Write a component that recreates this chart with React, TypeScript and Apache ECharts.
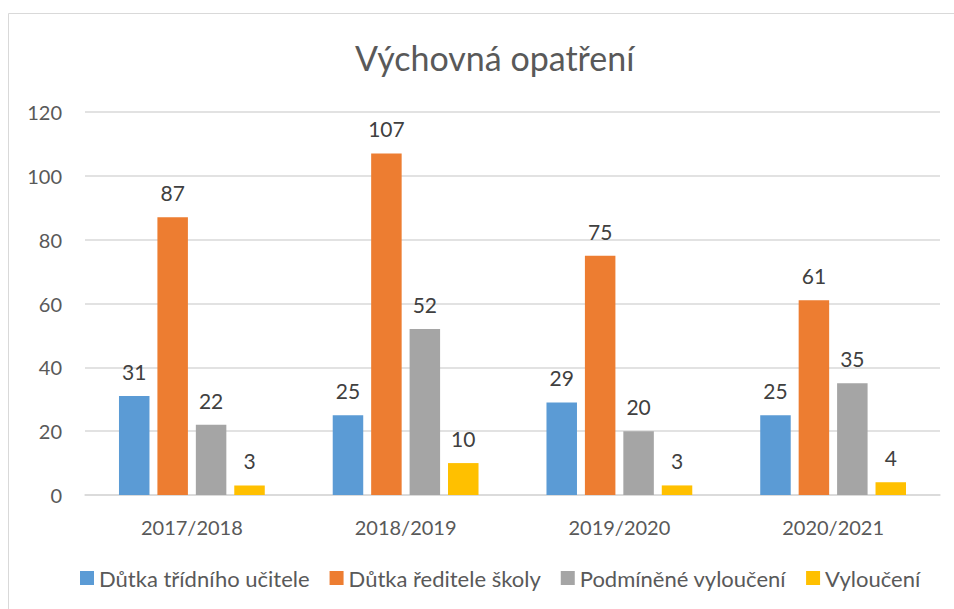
import React, { useEffect, useRef } from "react";
import * as echarts from "echarts";

const categories = ["2017/2018", "2018/2019", "2019/2020", "2020/2021"];
const seriesNames = ["Důtka třídního učitele", "Důtka ředitele školy", "Podmíněné vyloučení", "Vyloučení"];
const dutkaTridni = [31, 25, 29, 25];
const dutkaReditele = [87, 107, 75, 61];
const podminene = [22, 52, 20, 35];
const vylouceni = [3, 10, 3, 4];
const colors = ["#5B9BD5", "#ED7D31", "#A5A5A5", "#FFC000"];

const FONT = "Lato, 'Open Sans', sans-serif";

export default function App() {
  const ref = useRef<HTMLDivElement>(null);
  useEffect(() => {
    if (!ref.current) return;
    const chart = echarts.init(ref.current, undefined, { renderer: "svg" });
    const values = [dutkaTridni, dutkaReditele, podminene, vylouceni];
    chart.setOption({
      animation: false,
      textStyle: { fontFamily: FONT, color: "#595959" },
      title: {
        text: "Výchovná opatření",
        left: 350,
        top: 35,
        textStyle: { fontFamily: FONT, fontSize: 34, fontWeight: "normal", color: "#595959" },
      },
      graphic: [
        {
          type: "line",
          shape: { x1: 8.5, y1: 13.5, x2: 954, y2: 13.5 },
          style: { stroke: "#D9D9D9", lineWidth: 1 },
          silent: true,
        },
        {
          type: "line",
          shape: { x1: 8.5, y1: 13.5, x2: 8.5, y2: 609 },
          style: { stroke: "#D9D9D9", lineWidth: 1 },
          silent: true,
        },
      ],
      legend: {
        bottom: 15,
        left: 75,
        itemWidth: 14,
        itemHeight: 14,
        itemGap: 20,
        icon: "rect",
        textStyle: { fontFamily: FONT, fontSize: 22, color: "#595959" },
        data: seriesNames,
      },
      grid: { left: 85, right: 14, top: 112, bottom: 114 },
      xAxis: {
        type: "category",
        data: categories,
        axisLine: { lineStyle: { color: "#D9D9D9", width: 1.5 } },
        axisTick: { show: false },
        axisLabel: { fontFamily: FONT, fontSize: 20, color: "#595959", margin: 22 },
      },
      yAxis: {
        type: "value",
        min: 0,
        max: 120,
        interval: 20,
        axisLine: { show: false },
        axisTick: { show: false },
        splitLine: { lineStyle: { color: "#D9D9D9", width: 1.5 } },
        axisLabel: { fontFamily: FONT, fontSize: 20, color: "#595959", margin: 23 },
      },
      series: seriesNames.map((name, i) => ({
        name,
        type: "bar",
        data: values[i],
        barWidth: 30.5,
        barGap: "26%",
        itemStyle: { color: colors[i] },
        label: {
          show: true,
          position: "top",
          distance: 14,
          fontFamily: FONT,
          fontSize: 21,
          color: "#404040",
        },
      })),
    });
    return () => chart.dispose();
  }, []);
  return (
    <div
      ref={ref}
      style={{ position: "absolute", left: 0, top: 0, width: 954, height: 609 }}
    />
  );
}
